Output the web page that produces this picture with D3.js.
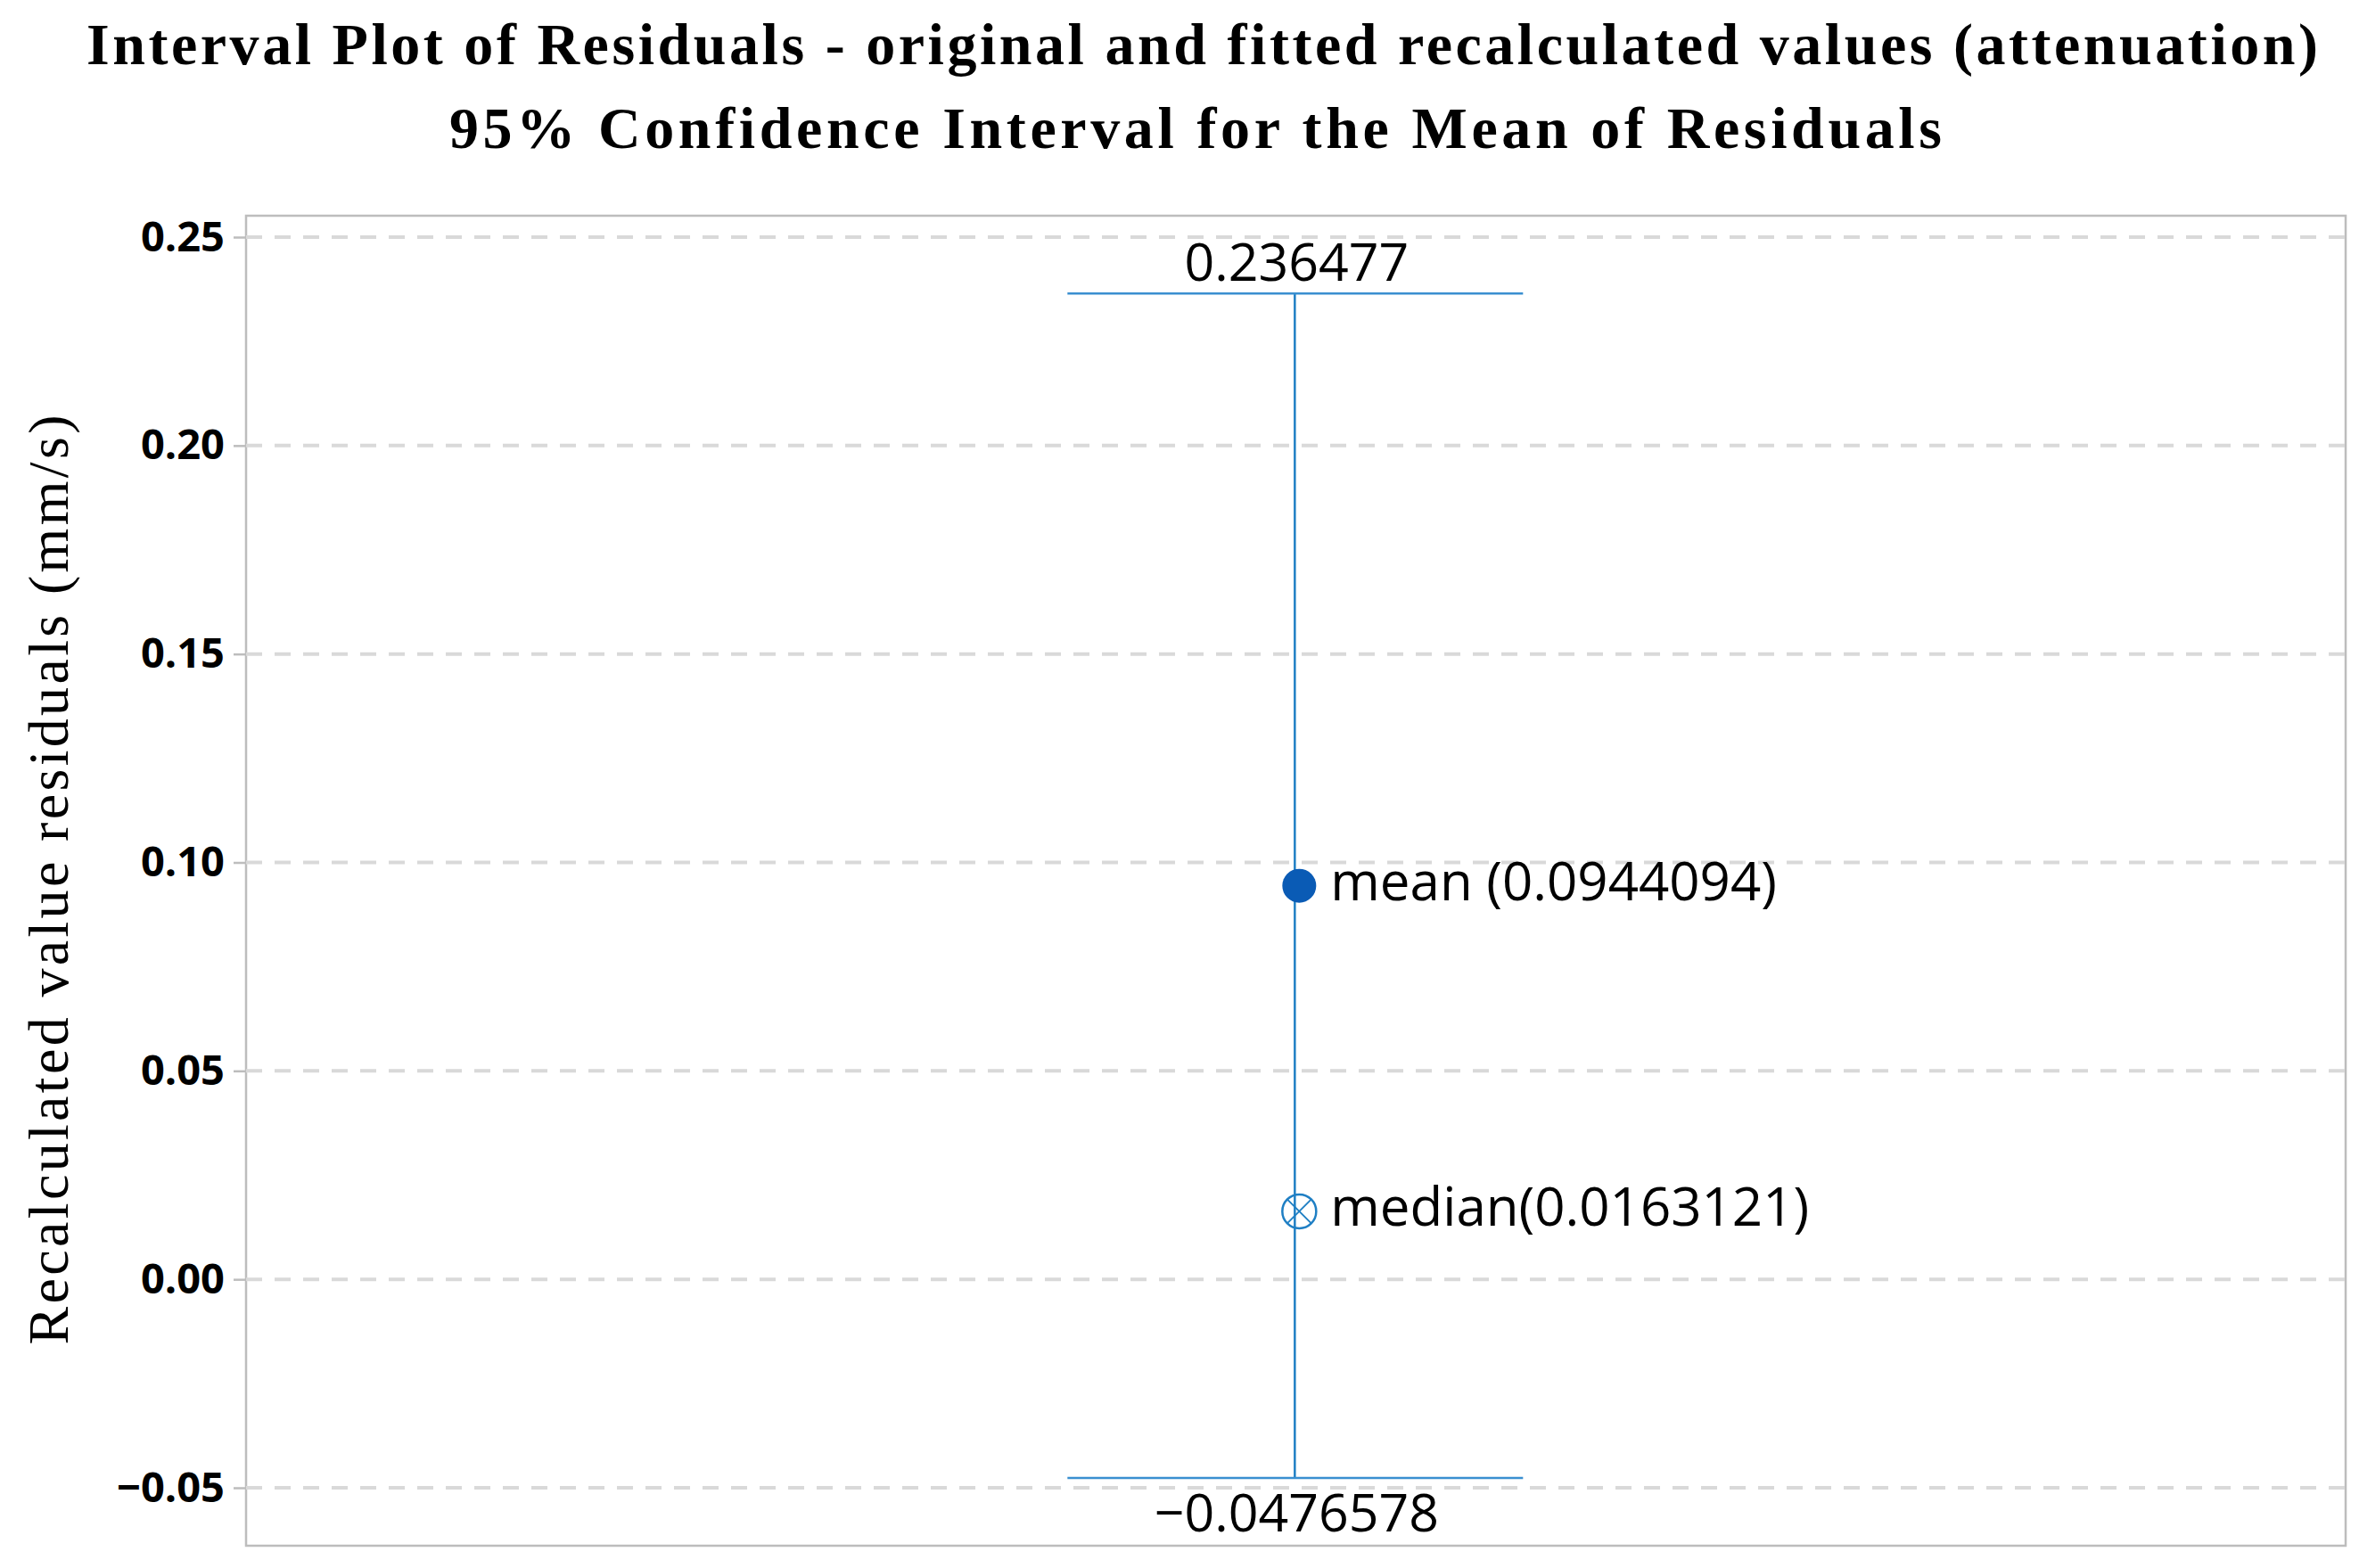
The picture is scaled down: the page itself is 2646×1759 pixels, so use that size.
<!DOCTYPE html>
<html>
<head>
<meta charset="utf-8">
<script src="https://cdn.jsdelivr.net/npm/d3@7"></script>
<style>
  body { margin: 0; background: #fff; }
</style>
</head>
<body>
<div id="chart"></div>
<script>
// data
const yTicks = [-0.05, 0.00, 0.05, 0.10, 0.15, 0.20, 0.25];
const ciBounds = [-0.0476578, 0.236477];
const centerStats = ['mean', 'median'];
const centerValues = [0.0944094, 0.0163121];
const centerLabels = ['mean (0.0944094)', 'median(0.0163121)'];

const W = 2646, H = 1759;
const frame = { left: 276, right: 2631, top: 242, bottom: 1734 };

const svg = d3.select('#chart').append('svg').attr('width', W).attr('height', H);

const y = d3.scaleLinear().domain([-0.05, 0.25]).range([1669, 266]);
const x = d3.scaleLinear().domain([0, 1]).range([frame.left, frame.right]);
const cx = x(0.4995); // ~1452

// title
svg.append('text').attr('x', 97).attr('y', 72).attr('textLength', 2503).attr('lengthAdjust', 'spacing')
  .style('font', 'bold 66px "Liberation Serif", serif')
  .text('Interval Plot of Residuals - original and fitted recalculated values (attenuation)');
svg.append('text').attr('x', 504).attr('y', 166).attr('textLength', 1674).attr('lengthAdjust', 'spacing')
  .style('font', 'bold 66px "Liberation Serif", serif')
  .text('95% Confidence Interval  for the Mean of Residuals');

// frame
svg.append('rect').attr('x', frame.left).attr('y', frame.top)
  .attr('width', frame.right - frame.left).attr('height', frame.bottom - frame.top)
  .attr('fill', 'none').attr('stroke', '#bdbdbd').attr('stroke-width', 2.5);

// grid
svg.append('g').selectAll('line').data(yTicks).enter().append('line')
  .attr('x1', frame.left).attr('x2', frame.right)
  .attr('y1', d => y(d)).attr('y2', d => y(d))
  .attr('stroke', '#d9d9d9').attr('stroke-width', 4).attr('stroke-dasharray', '18,14');

// y axis
const yAxis = d3.axisLeft(y).tickValues(yTicks).tickFormat(d => d3.format('.2f')(d).replace('-', '\u2212')).tickSize(14).tickPadding(10);
const ga = svg.append('g').attr('transform', `translate(${frame.left},0)`).call(yAxis);
ga.select('.domain').remove();
ga.selectAll('line').attr('stroke', '#bdbdbd').attr('stroke-width', 2.5);
ga.selectAll('text').style('font', 'bold 47px "Open Sans", sans-serif').attr('fill', '#000');

svg.append('text').attr('transform', 'translate(76,987) rotate(-90)').attr('text-anchor', 'middle')
  .attr('textLength', 1043).attr('lengthAdjust', 'spacing')
  .style('font', '64px "Liberation Serif", serif')
  .text('Recalculated value residuals (mm/s)');

// interval
const blue = '#1f7fc4';
svg.append('line').attr('x1', cx).attr('x2', cx).attr('y1', y(ciBounds[0])).attr('y2', y(ciBounds[1]))
  .attr('stroke', blue).attr('stroke-width', 2.5);
svg.append('g').selectAll('line').data(ciBounds).enter().append('line')
  .attr('x1', cx - 255).attr('x2', cx + 256).attr('y1', d => y(d)).attr('y2', d => y(d))
  .attr('stroke', '#3a8fd0').attr('stroke-width', 2.5);
svg.append('text').attr('x', cx + 2).attr('y', y(ciBounds[1]) - 14).attr('text-anchor', 'middle')
  .style('font', '59px "Open Sans", sans-serif').text(d3.format('.6')(ciBounds[1]));
svg.append('text').attr('x', cx + 2).attr('y', y(ciBounds[0]) + 60).attr('text-anchor', 'middle')
  .style('font', '59px "Open Sans", sans-serif').text('\u2212' + d3.format('.6')(-ciBounds[0]));

// mean point
svg.append('circle').attr('cx', cx + 5).attr('cy', y(centerValues[0])).attr('r', 19).attr('fill', '#0a5bb5');
// median symbol
const my = y(centerValues[1]);
svg.append('circle').attr('cx', cx + 5).attr('cy', my).attr('r', 19).attr('fill', 'none')
  .attr('stroke', blue).attr('stroke-width', 2.5);
[[-13, -13, 13, 13], [-13, 13, 13, -13]].forEach(p => {
  svg.append('line').attr('x1', cx + 5 + p[0]).attr('y1', my + p[1]).attr('x2', cx + 5 + p[2]).attr('y2', my + p[3])
    .attr('stroke', blue).attr('stroke-width', 2);
});

svg.append('g').selectAll('text').data(centerLabels).enter().append('text')
  .attr('x', cx + 40).attr('y', (d, i) => y(centerValues[i]) + 16)
  .style('font', '60px "Open Sans", sans-serif').text(d => d);
</script>
</body>
</html>
